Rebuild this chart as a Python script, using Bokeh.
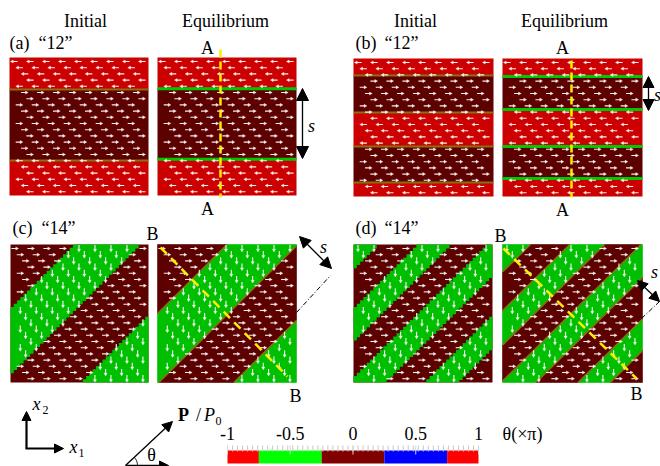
import numpy as np
from bokeh.plotting import figure
from bokeh.models import Range1d, Arrow, NormalHead
from bokeh.core.properties import value
from bokeh.embed import file_html
from bokeh.resources import INLINE

# ---------------- domain data (polarization angle theta in units of pi) ----------------
# horizontal stripe panels: band edges as fraction of panel height, measured from the top
a_init_edges = [0.232, 0.746]
a_eq_edges = [0.226, 0.737]
a_theta = [1.0, 0.0, 1.0]
b_init_edges = [0.123, 0.391, 0.638, 0.899]
b_eq_edges = [0.130, 0.370, 0.638, 0.870]
b_theta = [1.0, 0.0, 1.0, 0.0, 1.0]
# inclined stripe panels: band edges in d = u - v (u from the left, v from the bottom)
c_init_edges = [-0.53, -0.05, 0.51]
c_eq_edges = [-0.50, 0.01, 0.55]
c_theta = [0.0, -0.5, 0.0, -0.5]
d_init_edges = [-0.81, -0.54, -0.29, -0.03, 0.23, 0.52, 0.76]
d_eq_edges = [-0.80, -0.52, -0.27, -0.01, 0.24, 0.54, 0.77]
d_theta = [-0.5, 0.0, -0.5, 0.0, -0.5, 0.0, -0.5, 0.0]

# colour bar
cbar_edges = [-1.0, -0.75, -0.25, 0.25, 0.75, 1.0]
cbar_colors = ["#ff0000", "#00ff00", "#800000", "#0000ff", "#ff0000"]
cbar_ticks = [-1.0, -0.5, 0.0, 0.5, 1.0]
cbar_tick_labels = ["-1", "-0.5", "0", "0.5", "1"]
cbar_minor_step = 0.04

# ---------------- layout (pixels, origin top-left) ----------------
W, H = 660, 466
PANELS = {
    "a_init": (9, 57, 139, 138), "a_eq": (157, 57, 139, 138),
    "b_init": (353, 58, 140, 138), "b_eq": (502, 58, 140, 138),
    "c_init": (10, 244, 138, 138), "c_eq": (157, 244, 139, 138),
    "d_init": (353, 244, 139, 138), "d_eq": (502, 244, 140, 138),
}
CB_X0, CB_X1, CB_Y0, CB_Y1 = 227, 478, 450, 463
FIELD = {"red": "#cc0000", "green": "#00bf00", "maroon": "#5c0000", "blue": "#0000c0"}
FONT = value("Liberation Serif")


def field_color(th):
    if abs(th) > 0.75:
        return FIELD["red"]
    if th < -0.25:
        return FIELD["green"]
    if th <= 0.25:
        return FIELD["maroon"]
    return FIELD["blue"]


p = figure(width=W, height=H, x_range=Range1d(0, W), y_range=Range1d(H, 0),
           output_backend="svg", toolbar_location=None, min_border=0,
           x_axis_location=None, y_axis_location=None)
p.grid.visible = False
p.outline_line_color = None
p.background_fill_color = "white"
p.border_fill_color = "white"

quads = dict(left=[], right=[], top=[], bottom=[], color=[])
polys = dict(xs=[], ys=[], color=[])
arrows_seg = dict(x0=[], y0=[], x1=[], y1=[])
arrows_head = dict(xs=[], ys=[])


def add_quad(l, r, t, b, c):
    quads["left"].append(l); quads["right"].append(r)
    quads["top"].append(t); quads["bottom"].append(b); quads["color"].append(c)


def lattice(w, h):
    pts = []
    j = 0
    y = 4.0
    while y < h - 3:
        x = (j * 5.33) % 16.0 + 4.5
        while x < w - 4:
            pts.append((x, y))
            x += 16.0
        j += 1
        y += 6.2
    return pts


def add_arrow(cx, cy, th):
    dx, dy = np.cos(th * np.pi), -np.sin(th * np.pi)
    px, py = -dy, dx
    tx, ty = cx - 3.6 * dx, cy - 3.6 * dy
    hx, hy = cx + 3.6 * dx, cy + 3.6 * dy
    bx, by = hx - 2.8 * dx, hy - 2.8 * dy
    arrows_seg["x0"].append(tx); arrows_seg["y0"].append(ty)
    arrows_seg["x1"].append(bx + 0.5 * dx); arrows_seg["y1"].append(by + 0.5 * dy)
    arrows_head["xs"].append([hx, bx + 1.6 * px, bx - 1.6 * px])
    arrows_head["ys"].append([hy, by + 1.6 * py, by - 1.6 * py])


# ---- horizontal stripe panels ----
boundary_lines = dict(x0=[], y0=[], x1=[], y1=[], color=[], width=[])


def horizontal_panel(key, edges, thetas, eq):
    x0, y0, w, h = PANELS[key]
    e = [0.0] + list(edges) + [1.0]
    for i, th in enumerate(thetas):
        add_quad(x0, x0 + w, y0 + e[i] * h, y0 + e[i + 1] * h, field_color(th))
    for ed in edges:
        boundary_lines["x0"].append(x0); boundary_lines["x1"].append(x0 + w)
        boundary_lines["y0"].append(y0 + ed * h); boundary_lines["y1"].append(y0 + ed * h)
        boundary_lines["color"].append("#00c800" if eq else "#8a7010")
        boundary_lines["width"].append(3.0 if eq else 2.0)
    for (ax, ay) in lattice(w, h):
        k = int(np.searchsorted(edges, ay / h))
        add_arrow(x0 + ax, y0 + ay, thetas[k])


def clip(poly, f):
    out = []
    n = len(poly)
    for i in range(n):
        P, Q = poly[i], poly[(i + 1) % n]
        fp, fq = f(P), f(Q)
        if fp >= 0:
            out.append(P)
        if (fp >= 0) != (fq >= 0):
            t = fp / (fp - fq)
            out.append((P[0] + t * (Q[0] - P[0]), P[1] + t * (Q[1] - P[1])))
    return out


def inclined_panel(key, edges, thetas, eq):
    x0, y0, w, h = PANELS[key]
    if eq:
        e = [-2.0] + list(edges) + [2.0]
        for i, th in enumerate(thetas):
            sq = [(0, 0), (1, 0), (1, 1), (0, 1)]
            lo, hi = e[i], e[i + 1]
            poly = clip(sq, lambda P: (P[0] - P[1]) - lo)
            poly = clip(poly, lambda P: hi - (P[0] - P[1]))
            if len(poly) >= 3:
                polys["xs"].append([x0 + u * w for u, v in poly])
                polys["ys"].append([y0 + (1 - v) * h for u, v in poly])
                polys["color"].append(field_color(th))
        for ed in edges:
            if ed <= 0:
                (u0, v0), (u1, v1) = (0.0, -ed), (1.0 + ed, 1.0)
            else:
                (u0, v0), (u1, v1) = (ed, 0.0), (1.0, 1.0 - ed)
            boundary_lines["x0"].append(x0 + u0 * w); boundary_lines["y0"].append(y0 + (1 - v0) * h)
            boundary_lines["x1"].append(x0 + u1 * w); boundary_lines["y1"].append(y0 + (1 - v1) * h)
            boundary_lines["color"].append("#8a7010")
            boundary_lines["width"].append(1.4)
    else:
        # pixelated starting configuration: a maroon ground, then run-length cells
        add_quad(x0, x0 + w, y0, y0 + h, FIELD["maroon"])
        n = 42
        for r in range(n):
            vc = 1 - (r + 0.5) / n
            ks = [int(np.searchsorted(edges, (c + 0.5) / n - vc)) for c in range(n)]
            start = 0
            for c in range(1, n + 1):
                if c == n or ks[c] != ks[start]:
                    col = field_color(thetas[ks[start]])
                    if col != FIELD["maroon"]:
                        add_quad(x0 + start * w / n, x0 + c * w / n,
                                 y0 + r * h / n,
                                 y0 + (r + 1) * h / n + (0.7 if r < n - 1 else 0), col)
                    start = c
    for (ax, ay) in lattice(w, h):
        d = ax / w - (1 - ay / h)
        k = int(np.searchsorted(edges, d))
        add_arrow(x0 + ax, y0 + ay, thetas[k])


horizontal_panel("a_init", a_init_edges, a_theta, False)
horizontal_panel("a_eq", a_eq_edges, a_theta, True)
horizontal_panel("b_init", b_init_edges, b_theta, False)
horizontal_panel("b_eq", b_eq_edges, b_theta, True)
inclined_panel("c_init", c_init_edges, c_theta, False)
inclined_panel("c_eq", c_eq_edges, c_theta, True)
inclined_panel("d_init", d_init_edges, d_theta, False)
inclined_panel("d_eq", d_eq_edges, d_theta, True)

p.quad(left=quads["left"], right=quads["right"], top=quads["top"], bottom=quads["bottom"],
       fill_color=quads["color"], line_color=None)
p.patches(xs=polys["xs"], ys=polys["ys"], fill_color=polys["color"],
          line_color=polys["color"], line_width=0.6)
p.segment(x0=boundary_lines["x0"], y0=boundary_lines["y0"], x1=boundary_lines["x1"],
          y1=boundary_lines["y1"], line_color=boundary_lines["color"],
          line_width=boundary_lines["width"])
p.segment(x0=arrows_seg["x0"], y0=arrows_seg["y0"], x1=arrows_seg["x1"], y1=arrows_seg["y1"],
          line_color="#ffffff", line_width=1.1, line_alpha=0.93)
p.patches(xs=arrows_head["xs"], ys=arrows_head["ys"], fill_color="#ffffff",
          line_color="#ffffff", line_width=0.3, fill_alpha=0.93)

# ---- cross-section lines A-A and B-B ----
YEL = "#ffee00"
p.segment(x0=[220], y0=[49], x1=[220], y1=[197], line_color=YEL, line_width=2.5, line_dash="8 4")
p.segment(x0=[571], y0=[60], x1=[571], y1=[197], line_color=YEL, line_width=2.5, line_dash="8 4")
p.segment(x0=[160], y0=[247], x1=[287], y1=[376], line_color=YEL, line_width=2.5, line_dash="9 6")
p.segment(x0=[503], y0=[248], x1=[636], y1=[378], line_color=YEL, line_width=2.5, line_dash="9 6")

# ---- domain width arrows ----
def dbl_arrow(xa, ya, xb, yb, size, lw=1.3):
    p.add_layout(Arrow(x_start=xa, y_start=ya, x_end=xb, y_end=yb, line_width=lw,
                       start=NormalHead(size=size, fill_color="black", line_color="black"),
                       end=NormalHead(size=size, fill_color="black", line_color="black")))


dbl_arrow(302, 88, 302, 158, 12)
dbl_arrow(648, 76, 648, 110, 11)
dbl_arrow(299, 236, 331, 268, 11)
dbl_arrow(637, 280, 659, 301, 10)
p.segment(x0=[296, 641], y0=[312, 318], x1=[330, 659], y1=[275, 301], line_color="black",
          line_width=1, line_dash="5 2 1 2")

# ---- colour bar ----
def cbx(v):
    return CB_X0 + (v + 1) / 2 * (CB_X1 - CB_X0)


p.quad(left=[cbx(a) for a in cbar_edges[:-1]], right=[cbx(b) for b in cbar_edges[1:]],
       top=[CB_Y0] * 5, bottom=[CB_Y1] * 5, fill_color=cbar_colors, line_color=None)
minor = np.arange(-1.0, 1.0 + 1e-9, cbar_minor_step)
p.segment(x0=[cbx(m) for m in minor], y0=[CB_Y0 - 5] * len(minor), x1=[cbx(m) for m in minor],
          y1=[CB_Y0 + 1] * len(minor), line_color="#c8c8c8", line_width=1)
p.segment(x0=[cbx(m) for m in cbar_ticks], y0=[CB_Y0 - 5] * 5, x1=[cbx(m) for m in cbar_ticks],
          y1=[CB_Y0 + 4] * 5, line_color="#d8d8d8", line_width=1)


def txt(x, y, s, size=18, align="center", style="normal", baseline="middle"):
    p.text(x=[x], y=[y], text=[s], text_font=FONT, text_font_size=value(f"{size}px"),
           text_align=align, text_baseline=baseline, text_font_style=style,
           text_color="black")


for v, lab in zip(cbar_ticks, cbar_tick_labels):
    txt(cbx(v), 433, lab)
txt(522, 433, "θ(×π)")

# ---- titles and labels ----
txt(85, 20, "Initial"); txt(225, 20, "Equilibrium")
txt(415, 20, "Initial"); txt(564, 20, "Equilibrium")
for lx, ly, tag, num in [(9, 42, "(a)", "“12”"), (355, 42, "(b)", "“12”"),
                         (12, 227, "(c)", "“14”"), (355, 227, "(d)", "“14”")]:
    txt(lx, ly, tag, align="left")
    txt(lx + 29, ly, num, align="left")
txt(207, 47, "A"); txt(207, 208, "A"); txt(562, 47, "A"); txt(562, 209, "A")
txt(152, 233, "B"); txt(295, 395, "B"); txt(500, 235, "B"); txt(636, 393, "B")
txt(311, 125, "s", style="italic"); txt(657, 94, "s", style="italic")
txt(323, 246, "s", style="italic"); txt(654, 271, "s", style="italic")

# ---- coordinate axes icon ----
def arrow1(xa, ya, xb, yb, size, lw):
    p.add_layout(Arrow(x_start=xa, y_start=ya, x_end=xb, y_end=yb, line_width=lw,
                       end=NormalHead(size=size, fill_color="black", line_color="black")))


arrow1(26, 448, 26, 411, 9, 2.2)
arrow1(25, 448, 63, 448, 9, 2.2)
txt(36, 403, "x", style="italic"); txt(45, 409, "2", size=12)
txt(73, 446, "x", style="italic"); txt(81, 452, "1", size=12)

# ---- polarization angle sketch ----
arrow1(125, 465, 172, 421, 10, 1.3)
arrow1(125, 465, 168, 465, 9, 1.3)
ang = np.linspace(0, np.deg2rad(43), 20)
p.line(x=list(125 + 12 * np.cos(ang)), y=list(465 - 12 * np.sin(ang)), line_color="black",
       line_width=1)
txt(151, 454, "θ")
txt(183, 414, "P", style="bold")
txt(198, 414, "/")
txt(209, 414, "P", style="italic")
txt(218, 420, "0", size=12)

open("out.html", "w").write(file_html(p, INLINE))
